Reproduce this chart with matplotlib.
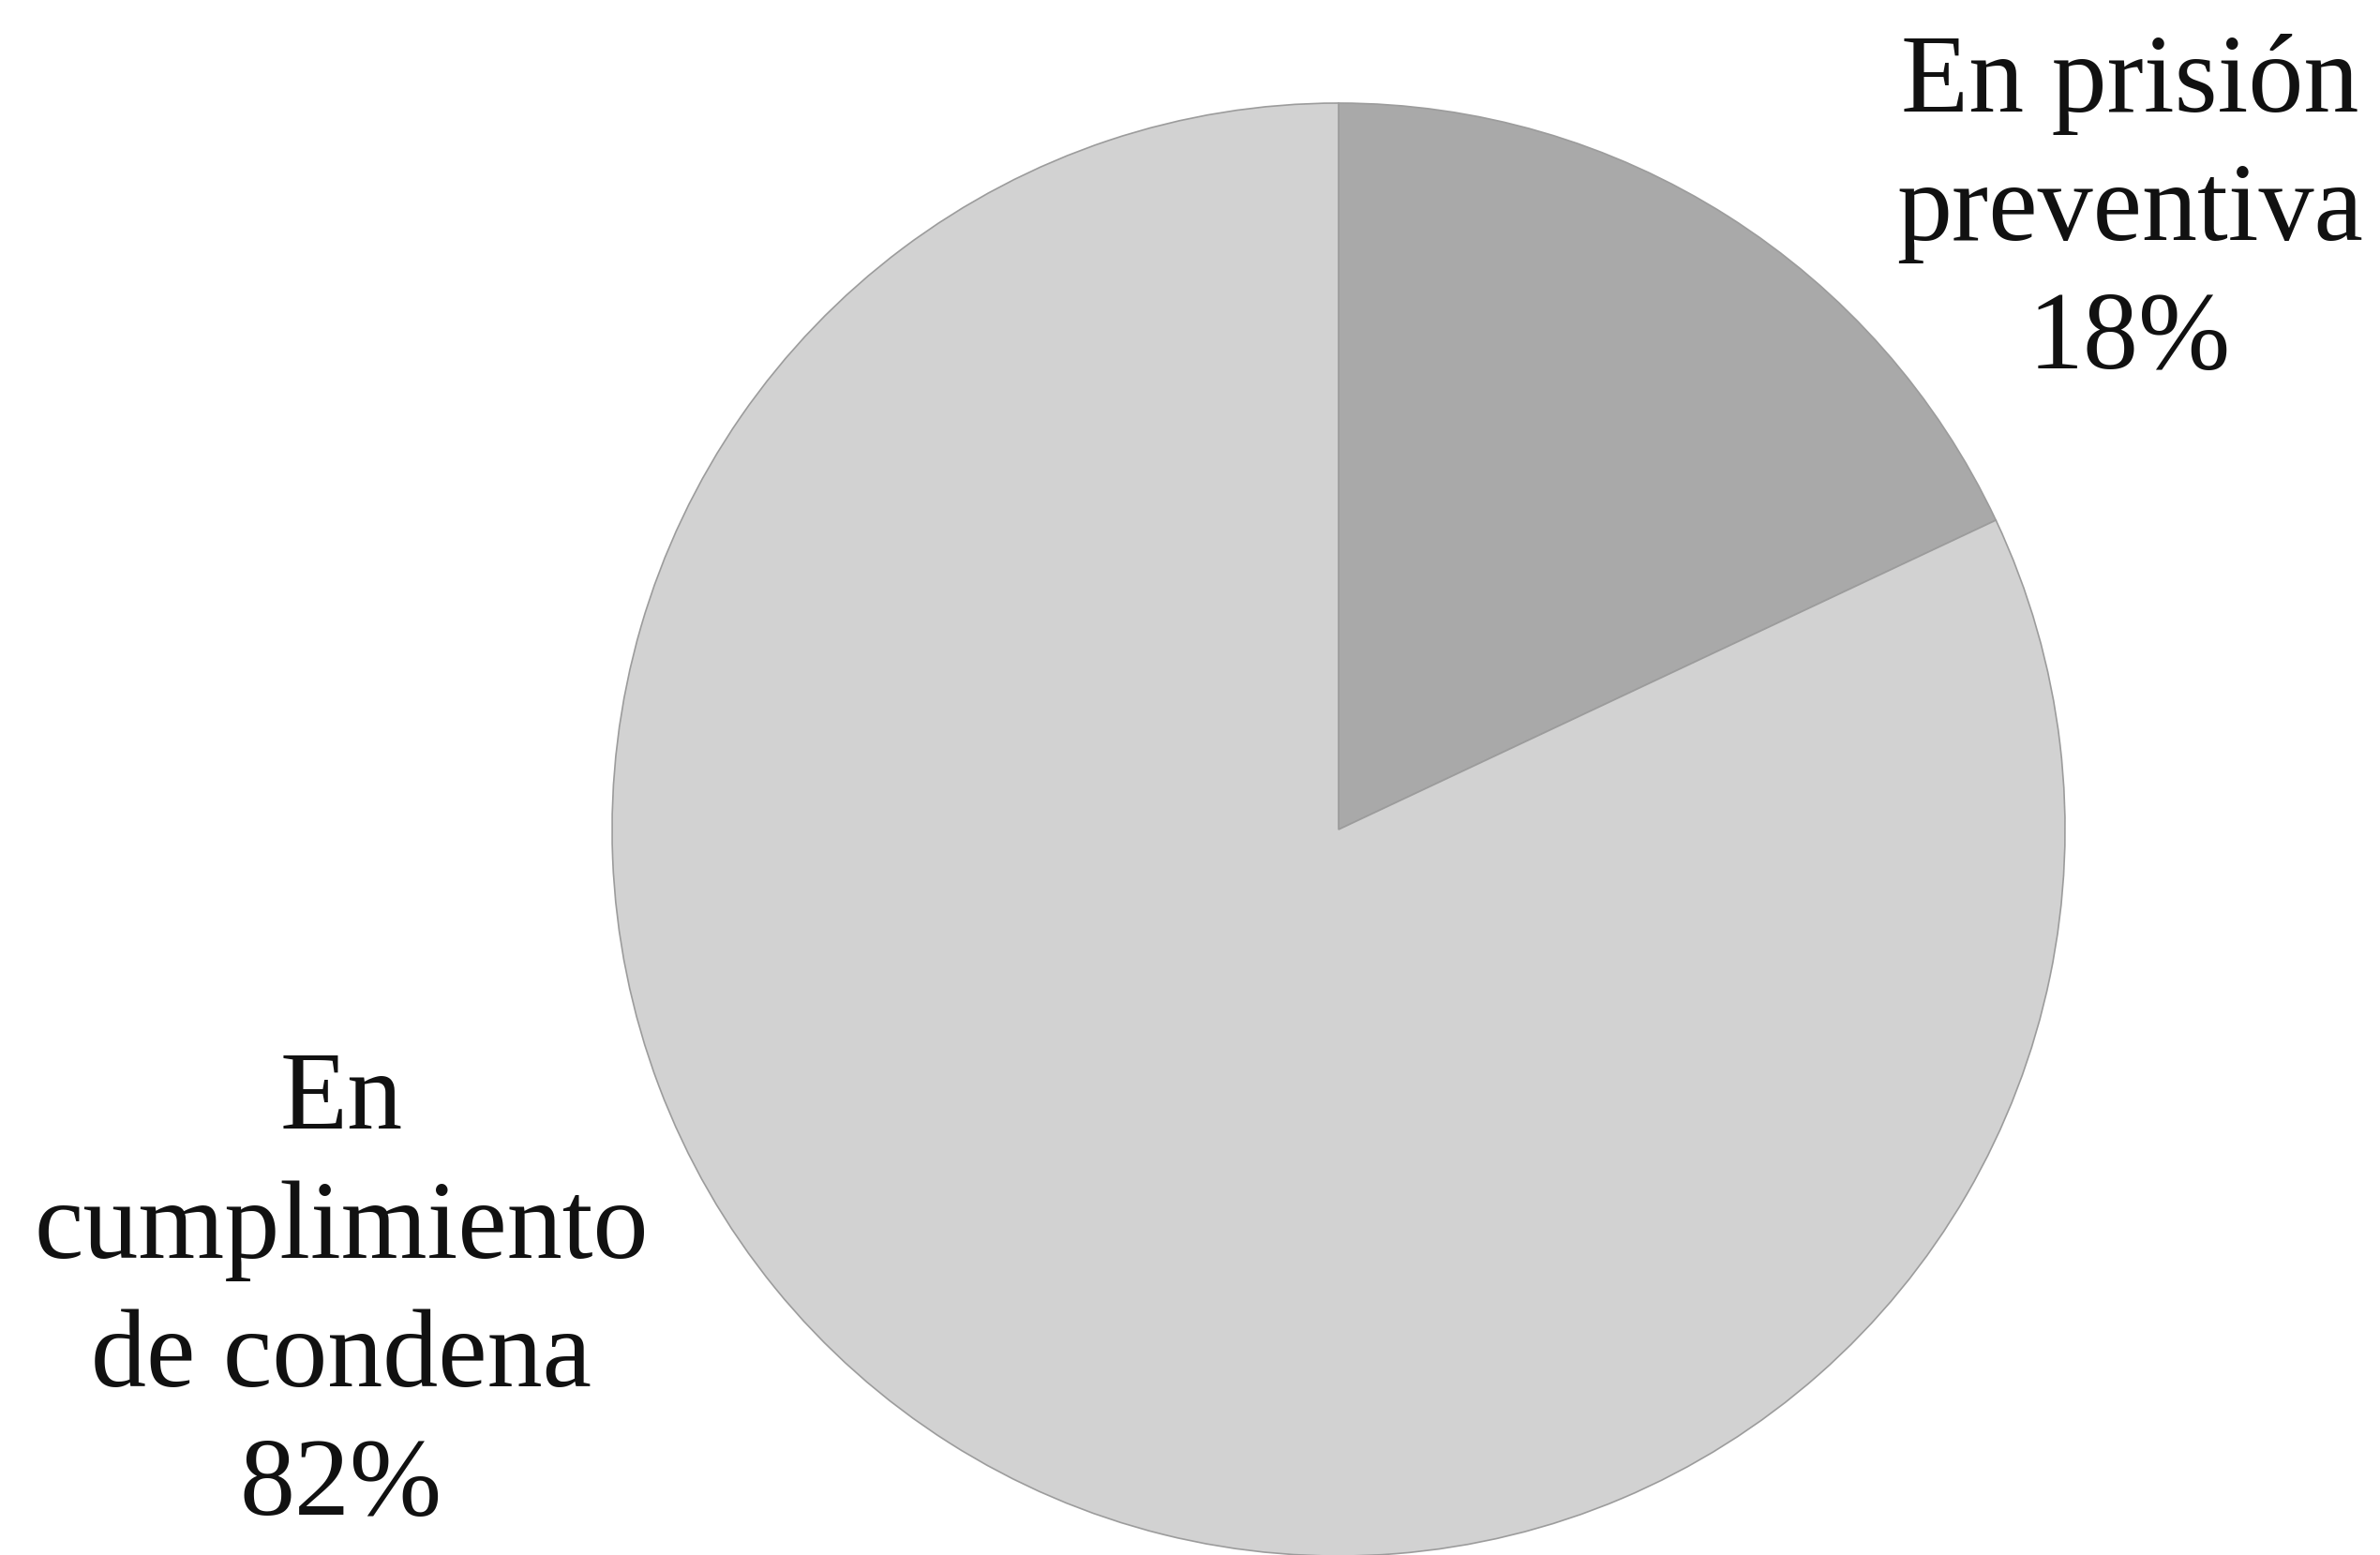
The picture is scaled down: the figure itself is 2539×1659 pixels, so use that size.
import matplotlib
matplotlib.use("Agg")
import matplotlib.pyplot as plt

# slice data
categories = ["En prisión\npreventiva", "En\ncumplimiento\nde condena"]
shares = [18, 82]
slice_colors = ["#a9a9a9", "#d2d2d2"]

W, H = 2539, 1659
DPI = 100

fig = plt.figure(figsize=(W / DPI, H / DPI), dpi=DPI)
fig.patch.set_facecolor("white")
ax = fig.add_axes([0, 0, 1, 1])

# pie centre / radius in pixels
cx, cy, r = 1428, 885, 775

wedges, _ = ax.pie(shares, colors=slice_colors, startangle=90,
                   counterclock=False, radius=1,
                   wedgeprops=dict(edgecolor="#9c9c9c", linewidth=1.2))

ax.set_xlim(-cx / r, (W - cx) / r)
ax.set_ylim(-(H - cy) / r, cy / r)
ax.set_aspect("auto")
ax.axis("off")

# label positions (pixel coords of the last line's baseline)
label_pos = [(2272, 393), (364, 1616)]
for name, val, (lx, ly) in zip(categories, shares, label_pos):
    fig.text(lx / W, 1 - ly / H, f"{name}\n{val}%", ha="center", va="baseline",
             multialignment="center", fontsize=85, family="Liberation Serif",
             color="#111111", linespacing=1.36)

fig.savefig("out.png", dpi=DPI, facecolor="white")
